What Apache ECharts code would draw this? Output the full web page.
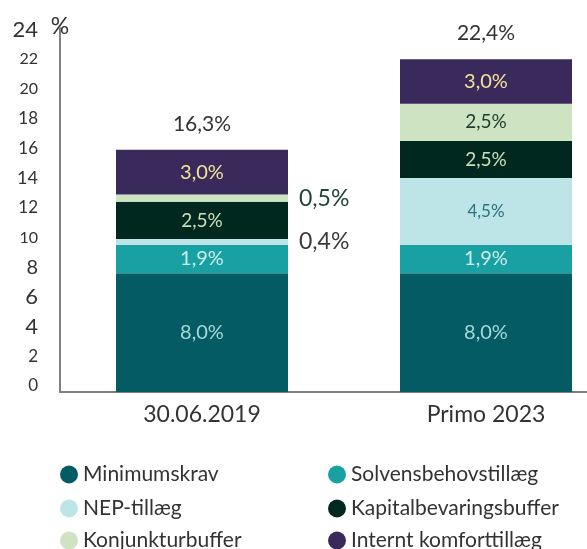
<!DOCTYPE html>
<html><head><meta charset="utf-8">
<script src="https://cdn.jsdelivr.net/npm/echarts@6/dist/echarts.min.js"></script>
<style>html,body{margin:0;padding:0;background:#fff}#c{width:587px;height:549px}</style>
</head><body><div id="c"></div>
<script>
// ---- data ----
const categories = ['30.06.2019', 'Primo 2023'];
const seriesNames = ['Minimumskrav', 'Solvensbehovstillæg', 'NEP-tillæg', 'Kapitalbevaringsbuffer', 'Konjunkturbuffer', 'Internt komforttillæg'];
const minimumskrav = [8.0, 8.0];
const solvensbehovstillaeg = [1.9, 1.9];
const nepTillaeg = [0.4, 4.5];
const kapitalbevaringsbuffer = [2.5, 2.5];
const konjunkturbuffer = [0.5, 2.5];
const interntKomforttillaeg = [3.0, 3.0];
const totals = [16.3, 22.4];
const yTickValues = [0, 2, 4, 6, 8, 10, 12, 14, 16, 18, 20, 22, 24];

// ---- styles ----
const barColors = ['#045b64', '#19a0a3', '#bde4e7', '#00281e', '#cde3c1', '#3a2a5b'];
const labelColors = ['#a4d9d7', '#cdeeed', '#2a7380', '#c9e0b8', '#1d3a2c', '#efe39a'];
const outsideColors = ['#333', '#333', '#3a3a3a', '#333', '#1e4538', '#333'];
const labelSizes = [20, 20, 17, 19, 19, 20];
const tickFontSizes = {0: 17, 2: 17, 4: 22, 6: 22, 8: 20, 10: 16, 12: 17, 14: 18, 16: 17, 18: 17, 20: 16, 22: 16, 24: 22};
const FONT = 'Lato';

const allValues = [minimumskrav, solvensbehovstillaeg, nepTillaeg, kapitalbevaringsbuffer, konjunkturbuffer, interntKomforttillaeg];
const fmt = v => v.toFixed(1).replace('.', ',') + '%';

const series = allValues.map((vals, i) => ({
  name: seriesNames[i],
  type: 'bar',
  stack: 'total',
  barWidth: 172,
  itemStyle: { color: barColors[i] },
  label: {
    show: true, position: 'inside', color: labelColors[i],
    fontFamily: FONT, fontSize: labelSizes[i],
    formatter: p => fmt(p.value)
  },
  data: vals.map(v => v < 1 ? {
    value: v,
    label: { position: 'right', distance: 11, color: outsideColors[i], fontSize: 23 }
  } : v)
}));

series.push({
  name: 'total', type: 'bar', stack: 'total', barWidth: 172,
  itemStyle: { color: 'transparent' },
  label: {
    show: true, position: 'top', distance: 15, color: '#333',
    fontFamily: FONT, fontSize: 21,
    formatter: p => fmt(totals[p.dataIndex])
  },
  data: totals.map(() => 0)
});

const rich = {};
yTickValues.forEach(v => { rich['s' + v] = { fontSize: tickFontSizes[v], color: '#333', fontFamily: FONT }; });

// legend: 2 columns x 3 rows
const legendCols = [55, 323];
const legendRows = [459, 493, 525];
const legends = seriesNames.map((name, i) => ({
  orient: 'horizontal', icon: 'circle', itemWidth: 18, itemHeight: 18,
  left: legendCols[i % 2], top: legendRows[Math.floor(i / 2)],
  data: [name],
  textStyle: { fontFamily: FONT, fontSize: 21, color: '#333' },
  selectedMode: false
}));

const option = {
  animation: false,
  textStyle: { fontFamily: FONT },
  grid: { left: 60, top: 28, width: 568, height: 364, outerBoundsMode: 'none', containLabel: false },
  legend: legends,
  xAxis: {
    type: 'category', data: categories,
    axisLine: { lineStyle: { color: '#808080', width: 2 } },
    axisTick: { show: false },
    axisLabel: { fontFamily: FONT, fontSize: 23, color: '#333', margin: 11 }
  },
  yAxis: {
    type: 'value', min: 0, max: 24.5, interval: 2,
    name: '%', nameLocation: 'end', nameGap: 1,
    nameTextStyle: { fontFamily: FONT, fontSize: 23, color: '#333', align: 'center', verticalAlign: 'middle' },
    axisLine: { show: true, lineStyle: { color: '#808080', width: 2 } },
    axisTick: { show: false },
    splitLine: { show: false },
    axisLabel: {
      margin: 22, padding: [0, 0, 12, 0],
      formatter: v => (yTickValues.indexOf(v) < 0 ? '' : '{s' + v + '|' + v + '}'),
      rich: rich
    }
  },
  series: series
};

const chart = echarts.init(document.getElementById('c'), null, { renderer: 'canvas' });
chart.setOption(option);
</script>
</body></html>
